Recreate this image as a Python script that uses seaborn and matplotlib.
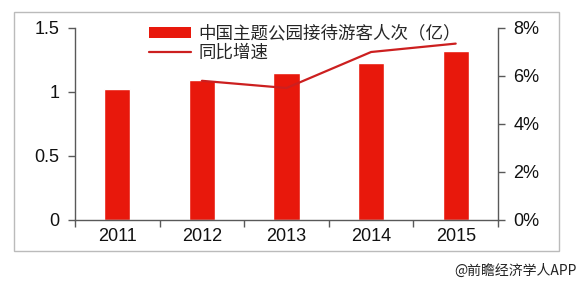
import matplotlib
matplotlib.use("Agg")
import matplotlib.pyplot as plt
import seaborn as sns
import pandas as pd
import numpy as np
from matplotlib.patches import Patch, Rectangle
from matplotlib.lines import Line2D
from matplotlib.ticker import FuncFormatter

years = ["2011", "2012", "2013", "2014", "2015"]
visitors = [1.02, 1.09, 1.15, 1.23, 1.32]          # 亿人次
growth = [np.nan, 5.8, 5.5, 7.0, 7.35]            # %
bar_label = "中国主题公园接待游客人次（亿）"
line_label = "同比增速"
source = "@前瞻经济学人APP"

sns.set_theme(style="white")
plt.rcParams['font.family'] = ['Liberation Sans', 'Noto Sans CJK SC', 'DejaVu Sans']

df = pd.DataFrame({"year": years, "visitors": visitors, "growth": growth})

fig = plt.figure(figsize=(5.82, 2.86), dpi=100)
ax = fig.add_axes([75/582, 1-220/286, (498-75)/582, (220-28)/286])

bar_color = "#E8180C"
line_color = "#CC1F1F"
spine_color = "#595959"

sns.barplot(data=df, x="year", y="visitors", color=bar_color, width=0.31,
            saturation=1, ax=ax)
ax.set_xlim(-0.5, 4.5)
ax.set_ylim(0, 1.5)
ax.set_yticks([0, 0.5, 1, 1.5])
ax.yaxis.set_major_formatter(FuncFormatter(lambda v, p: f"{v:g}"))
ax.set_xlabel("")
ax.set_ylabel("")

ax2 = ax.twinx()
sns.lineplot(data=df, x="year", y="growth", color=line_color, linewidth=1.6,
             ax=ax2)
ax2.set_ylim(0, 8)
ax2.set_yticks([0, 2, 4, 6, 8])
ax2.yaxis.set_major_formatter(FuncFormatter(lambda v, p: f"{v:.0f}%"))
ax2.set_ylabel("")
ax.set_xlim(-0.5, 4.5)

for a in (ax, ax2):
    for s in a.spines.values():
        s.set_visible(False)
ax.spines["left"].set_visible(True)
ax.spines["bottom"].set_visible(True)
ax2.spines["right"].set_visible(True)
for s in (ax.spines["left"], ax.spines["bottom"], ax2.spines["right"]):
    s.set_color(spine_color)
    s.set_linewidth(1.0)

ax.tick_params(axis="y", direction="out", length=5, width=1, color=spine_color,
               labelsize=13, labelcolor="#111111", pad=6, left=True)
ax2.tick_params(axis="y", direction="out", length=5, width=1, color=spine_color,
                labelsize=13, labelcolor="#111111", pad=6, right=True)
ax.tick_params(axis="x", which="major", length=0, labelsize=13,
               labelcolor="#111111", pad=6)
ax.set_xticks(np.arange(-0.5, 5.0, 1.0), minor=True)
ax.tick_params(axis="x", which="minor", direction="out", length=5, width=1,
               color=spine_color, bottom=True)

handles = [Patch(facecolor=bar_color, edgecolor="none"),
           Line2D([0], [0], color=line_color, linewidth=1.6)]
leg = ax.legend(handles, [bar_label, line_label], loc="upper left",
                bbox_to_anchor=(0.137, 1.10), frameon=False,
                handlelength=2.4, handleheight=0.6, handletextpad=0.45,
                labelspacing=0.05,
                prop={"family": ["Noto Sans CJK SC"], "size": 12.6})

fig.patches.append(Rectangle((14/582, 1-251/286), (559-14)/582, (251-12)/286,
                             transform=fig.transFigure, fill=False,
                             edgecolor="#BBBBBB", linewidth=1.0))

fig.text(577/582, 1-271/286, source, ha="right", va="center", fontsize=10,
         family=["Noto Sans CJK SC", "DejaVu Sans"], color="#222222")

fig.savefig("out.png", dpi=100)
